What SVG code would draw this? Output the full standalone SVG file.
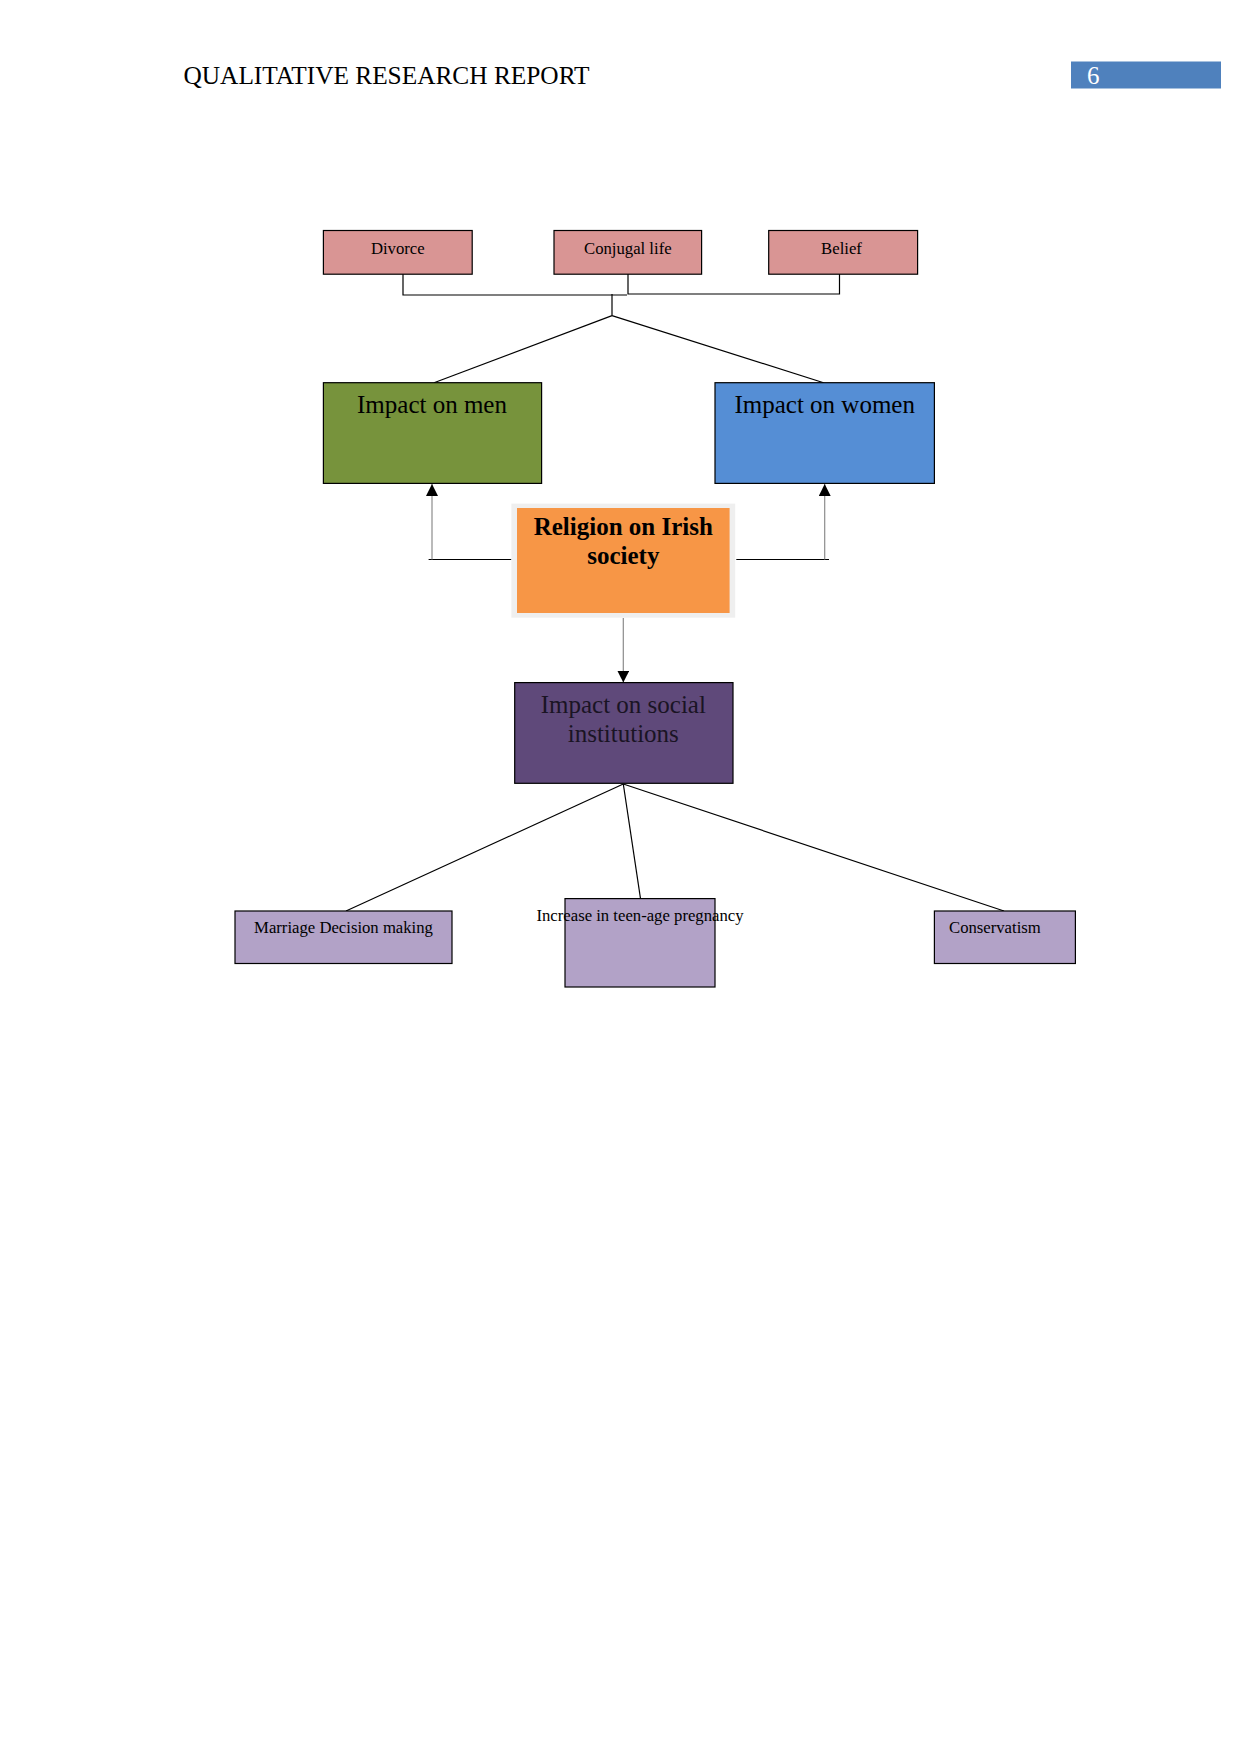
<svg xmlns="http://www.w3.org/2000/svg" width="1241" height="1754" viewBox="0 0 1241 1754">
<defs>
<marker id="arr" viewBox="0 0 12 12" refX="12" refY="6" markerWidth="12" markerHeight="12" markerUnits="userSpaceOnUse" orient="auto">
<path d="M0,0 L12,6 L0,12 Z" fill="#000"/>
</marker>
</defs>
<style>
text{font-family:"Liberation Serif","Times New Roman",serif;fill:#000}
.small{font-size:16.7px}
.big{font-size:25px}
.box{stroke:#000;stroke-width:1.2}
.ln{stroke:#000;stroke-width:1.2;fill:none}
.gl{stroke:#8c8c8c;stroke-width:1.2;fill:none}
</style>
<rect width="1241" height="1754" fill="#fff"/>
<g id="header">
<text x="183.5" y="84" class="big" textLength="406" lengthAdjust="spacingAndGlyphs">QUALITATIVE RESEARCH REPORT</text>
<rect x="1071" y="61.5" width="150" height="27" fill="#4f81bd"/>
<text x="1087" y="84" class="big" style="fill:#fff">6</text>
</g>
<g id="connectors">
<polyline class="ln" points="403,274 403,295 627,295"/>
<polyline class="ln" points="628,274 628,294 839.5,294 839.5,274"/>
<line class="ln" x1="612" y1="294" x2="612" y2="315.6"/>
<line class="ln" x1="612" y1="315.6" x2="434" y2="382.7"/>
<line class="ln" x1="612" y1="315.6" x2="823.6" y2="382.7"/>
<line class="ln" x1="428.6" y1="559.5" x2="511.4" y2="559.5"/>
<line class="gl" x1="432" y1="559.5" x2="432" y2="484" marker-end="url(#arr)"/>
<line class="ln" x1="736.3" y1="559.5" x2="829" y2="559.5"/>
<line class="gl" x1="824.7" y1="559.5" x2="824.7" y2="484" marker-end="url(#arr)"/>
<line class="gl" x1="623.3" y1="618" x2="623.3" y2="682.6" marker-end="url(#arr)"/>
<line class="ln" x1="623.3" y1="784" x2="346" y2="911"/>
<line class="ln" x1="623.3" y1="784" x2="640.5" y2="898.6"/>
<line class="ln" x1="623.3" y1="784" x2="1004" y2="911"/>
</g>
<g id="divorce">
<rect class="box" x="323.4" y="230.5" width="148.8" height="43.7" fill="#d99594"/>
<text x="397.8" y="254" class="small" text-anchor="middle">Divorce</text>
</g>
<g id="conjugal">
<rect class="box" x="554" y="230.5" width="147.6" height="43.7" fill="#d99594"/>
<text x="627.8" y="254" class="small" text-anchor="middle">Conjugal life</text>
</g>
<g id="belief">
<rect class="box" x="768.7" y="230.5" width="148.9" height="43.7" fill="#d99594"/>
<text x="841.5" y="254" class="small" text-anchor="middle">Belief</text>
</g>
<g id="men">
<rect class="box" x="323.4" y="382.7" width="218.2" height="100.7" fill="#77933c"/>
<text x="432" y="413" class="big" text-anchor="middle">Impact on men</text>
</g>
<g id="women">
<rect class="box" x="715" y="382.7" width="219.4" height="100.7" fill="#558ed5"/>
<text x="824.7" y="413" class="big" text-anchor="middle">Impact on women</text>
</g>
<g id="religion">
<rect x="511.4" y="503.6" width="223.8" height="114.1" fill="#efefef"/>
<rect x="517" y="508" width="212.6" height="105" fill="#f79646"/>
<text x="623.3" y="535" class="big" text-anchor="middle" font-weight="bold">Religion on Irish</text>
<text x="623.3" y="564" class="big" text-anchor="middle" font-weight="bold">society</text>
</g>
<g id="social">
<rect class="box" x="514.7" y="682.6" width="218.3" height="100.7" fill="#5f497a"/>
<text x="623.3" y="713" class="big" text-anchor="middle" style="fill:#1a1424">Impact on social</text>
<text x="623.3" y="742" class="big" text-anchor="middle" style="fill:#1a1424">institutions</text>
</g>
<g id="marriage">
<rect class="box" x="235" y="911" width="217" height="52.5" fill="#b2a2c7"/>
<text x="343.5" y="933" class="small" text-anchor="middle">Marriage Decision making</text>
</g>
<g id="teen">
<rect class="box" x="565" y="898.6" width="150" height="88.4" fill="#b2a2c7"/>
<text x="640" y="921" class="small" text-anchor="middle">Increase in teen-age pregnancy</text>
</g>
<g id="conservatism">
<rect class="box" x="934.4" y="911" width="141" height="52.5" fill="#b2a2c7"/>
<text x="949" y="933" class="small">Conservatism</text>
</g>
</svg>
